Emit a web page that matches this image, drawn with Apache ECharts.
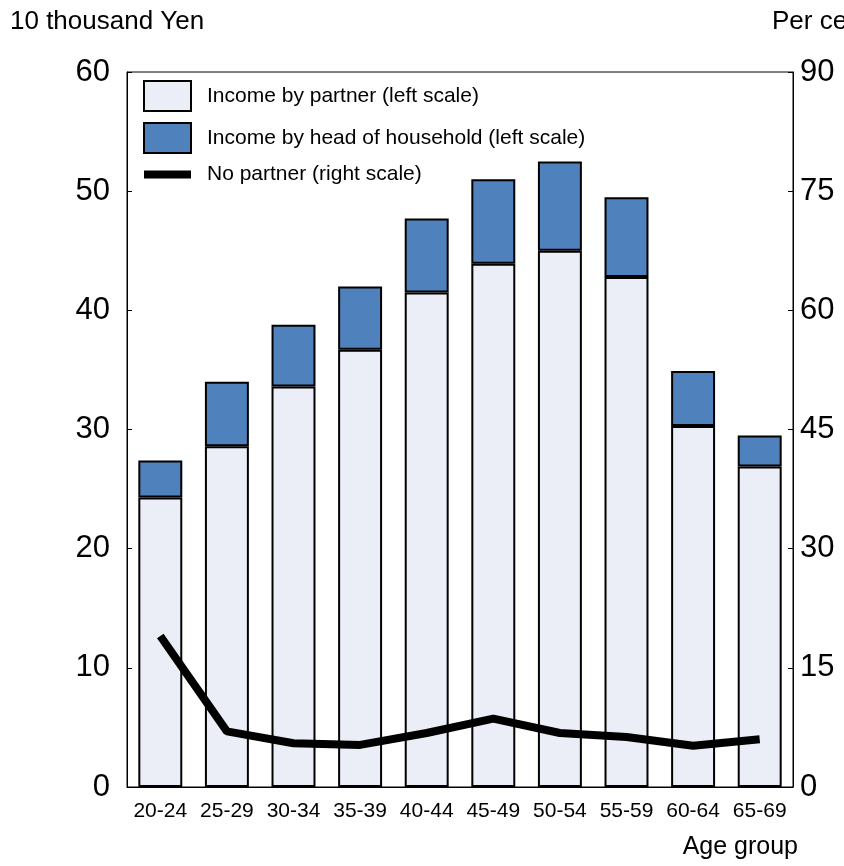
<!DOCTYPE html>
<html>
<head>
<meta charset="utf-8">
<script src="https://cdn.jsdelivr.net/npm/echarts@6/dist/echarts.min.js"></script>
<style>
html,body{margin:0;padding:0;background:#fff;}
#chart{width:844px;height:866px;}
</style>
</head>
<body>
<div id="chart"></div>
<script>
const FONT = '"Liberation Sans Narrow","Arial Narrow","Liberation Sans",Arial,sans-serif';
const categories = ['20-24','25-29','30-34','35-39','40-44','45-49','50-54','55-59','60-64','65-69'];
const incomePartner = [24.3, 28.6, 33.6, 36.7, 41.5, 43.9, 45.0, 42.8, 30.3, 26.9];
const incomeHead = [3.1, 5.4, 5.2, 5.3, 6.2, 7.1, 7.5, 6.7, 4.6, 2.6];
const noPartner = [19.0, 7.0, 5.5, 5.3, 6.8, 8.6, 6.8, 6.3, 5.2, 6.0];
const seriesNames = ['Income by partner (left scale)', 'Income by head of household (left scale)', 'No partner (right scale)'];

const chart = echarts.init(document.getElementById('chart'), null, {renderer: 'canvas'});
chart.setOption({
  animation: false,
  backgroundColor: '#fff',
  textStyle: {fontFamily: FONT},
  grid: {left: 127, right: 51, top: 72, bottom: 79, outerBoundsMode: 'none', containLabel: false,
         show: true, borderColor: '#000', borderWidth: 1, backgroundColor: 'transparent'},
  legend: {
    left: 143, top: 80, orient: 'vertical', padding: 0,
    itemWidth: 47, itemHeight: 30, itemGap: 10,
    symbolKeepAspect: true,
    textStyle: {fontFamily: FONT, fontSize: 21, color: '#000', padding: [0, 0, 0, 11]},
    data: [
      {name: seriesNames[0], icon: 'rect'},
      {name: seriesNames[1], icon: 'rect'},
      {name: seriesNames[2], icon: 'path://M0 0H47V8H0Z', itemStyle: {color: '#000', borderWidth: 0}}
    ]
  },
  xAxis: {
    type: 'category', data: categories, z: 10,
    axisLine: {lineStyle: {color: '#000', width: 1}},
    axisTick: {inside: true, alignWithLabel: true, length: 6, lineStyle: {color: '#888', width: 1.5}},
    axisLabel: {fontFamily: FONT, fontSize: 21, color: '#000', margin: 14, interval: 0},
    name: 'Age group', nameLocation: 'end', nameGap: 5,
    nameTextStyle: {fontFamily: FONT, fontSize: 25, color: '#000', align: 'right', verticalAlign: 'top', padding: [48, 0, 0, 0]}
  },
  yAxis: [
    {
      type: 'value', min: 0, max: 60, interval: 10, position: 'left',
      axisLine: {show: true, lineStyle: {color: '#000', width: 1}},
      axisTick: {show: true, inside: true, length: 5, lineStyle: {color: '#000'}},
      splitLine: {show: false},
      axisLabel: {fontFamily: FONT, fontSize: 31, color: '#000', margin: 17},
      name: '10 thousand Yen', nameLocation: 'end', nameGap: 50,
      nameTextStyle: {fontFamily: FONT, fontSize: 26, color: '#000', align: 'left', verticalAlign: 'middle', padding: [0, 0, 0, -117]}
    },
    {
      type: 'value', min: 0, max: 90, interval: 15, position: 'right',
      axisLine: {show: true, lineStyle: {color: '#000', width: 1}},
      axisTick: {show: true, inside: true, length: 5, lineStyle: {color: '#000'}},
      splitLine: {show: false},
      axisLabel: {fontFamily: FONT, fontSize: 31, color: '#000', margin: 7},
      name: 'Per cent', nameLocation: 'end', nameGap: 50,
      nameTextStyle: {fontFamily: FONT, fontSize: 26, color: '#000', align: 'left', verticalAlign: 'middle', padding: [0, 0, 0, -21]}
    }
  ],
  series: [
    {
      name: seriesNames[0], type: 'bar', stack: 'inc', yAxisIndex: 0, data: incomePartner,
      barWidth: '66%',
      itemStyle: {color: '#EBEEF7', borderColor: '#000', borderWidth: 2}
    },
    {
      name: seriesNames[1], type: 'bar', stack: 'inc', yAxisIndex: 0, data: incomeHead,
      barWidth: '66%',
      itemStyle: {color: '#4F81BD', borderColor: '#000', borderWidth: 2}
    },
    {
      name: seriesNames[2], type: 'line', yAxisIndex: 1, data: noPartner, z: 5,
      symbol: 'none', showSymbol: false,
      lineStyle: {color: '#000', width: 8},
      itemStyle: {color: '#000'}
    }
  ]
});
</script>
</body>
</html>
